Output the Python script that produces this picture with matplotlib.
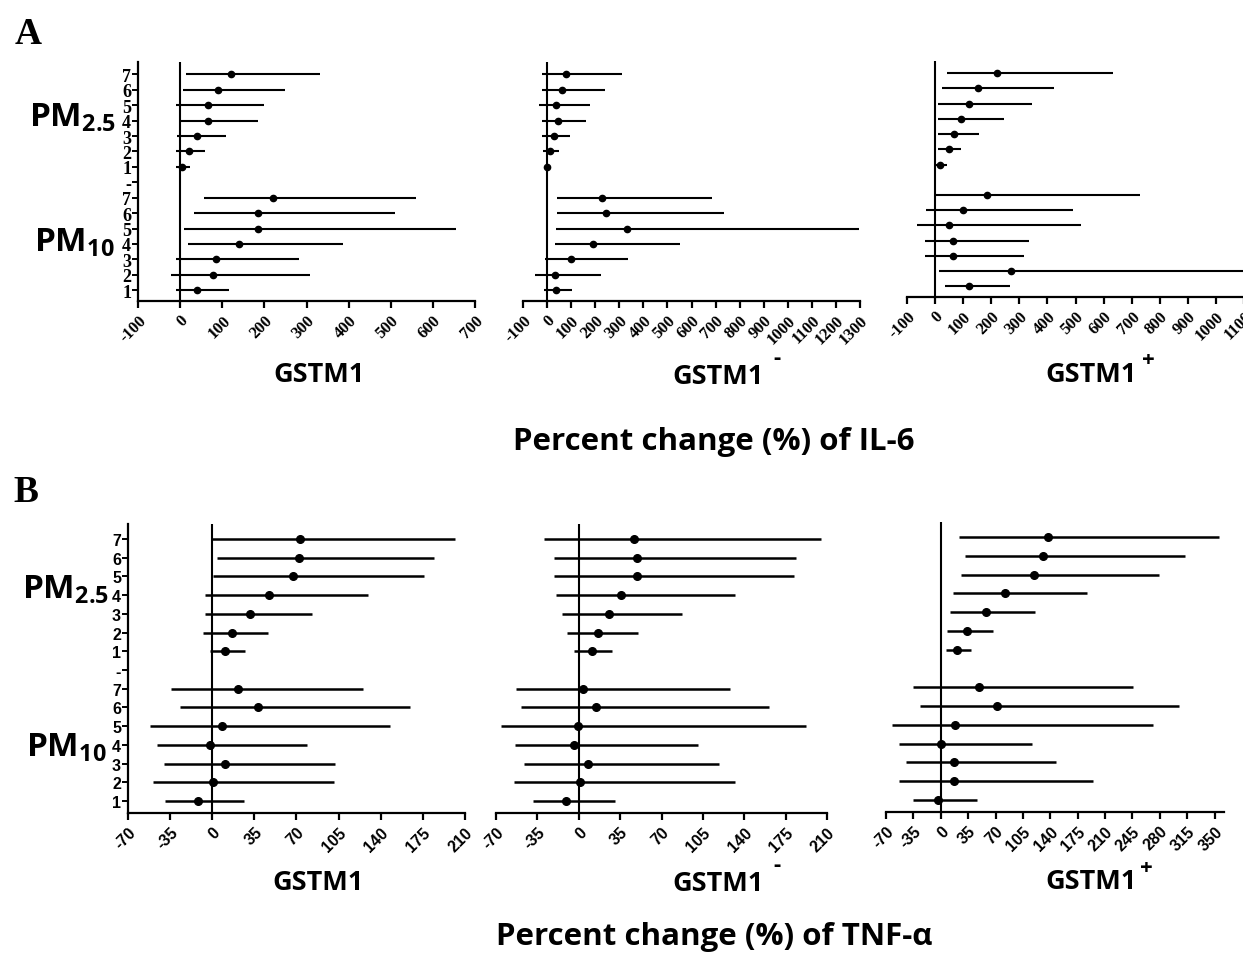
import matplotlib
matplotlib.use("Agg")
import matplotlib.pyplot as plt

W, H = 1243, 954

# row labels, top to bottom: PM2.5 lags 7..1, spacer, PM10 lags 7..1
row_labels = ["7", "6", "5", "4", "3", "2", "1", "-", "7", "6", "5", "4", "3", "2", "1"]

# IL-6, GSTM1 (all) -- lag 1..7
il6_all_pm25_est = [5, 20, 39, 67, 65, 90, 120]
il6_all_pm25_lo = [-10, -9, -7, 2, -10, 6, 13]
il6_all_pm25_hi = [23, 58, 108, 184, 199, 249, 332]
il6_all_pm10_est = [40, 79, 86, 139, 184, 186, 220]
il6_all_pm10_lo = [-9, -21, -9, 19, 10, 33, 56]
il6_all_pm10_hi = [115, 308, 282, 387, 656, 510, 559]

# IL-6, GSTM1-
il6_neg_pm25_est = [1, 12, 29, 44, 39, 64, 79]
il6_neg_pm25_lo = [-7, -17, -19, -22, -32, -19, -22]
il6_neg_pm25_hi = [15, 50, 94, 162, 180, 241, 311]
il6_neg_pm10_est = [36, 31, 101, 190, 330, 243, 230]
il6_neg_pm10_lo = [-11, -49, -7, 33, 36, 43, 40]
il6_neg_pm10_hi = [105, 226, 337, 551, 1294, 735, 687]

# IL-6, GSTM1+
il6_pos_pm25_est = [19, 48, 69, 93, 122, 152, 220]
il6_pos_pm25_lo = [5, 11, 11, 11, 11, 24, 42]
il6_pos_pm25_hi = [42, 93, 158, 246, 344, 424, 632]
il6_pos_pm10_est = [121, 272, 63, 65, 48, 101, 186]
il6_pos_pm10_lo = [36, 15, -36, -36, -65, -31, 1]
il6_pos_pm10_hi = [268, 1100, 317, 336, 519, 490, 730]

# TNF-a, GSTM1 (all)
tnf_all_pm25_est = [11, 16, 31, 47, 67, 72, 73]
tnf_all_pm25_lo = [-2, -8, -6, -6, 1, 4, -1]
tnf_all_pm25_hi = [27, 46, 83, 129, 176, 184, 202]
tnf_all_pm10_est = [-12, 1, 11, -2, 8, 38, 21]
tnf_all_pm10_lo = [-39, -49, -40, -46, -52, -27, -34]
tnf_all_pm10_hi = [26, 101, 102, 79, 148, 164, 125]

# TNF-a, GSTM1-
tnf_neg_pm25_est = [11, 16, 26, 36, 49, 49, 47]
tnf_neg_pm25_lo = [-4, -10, -14, -19, -21, -21, -29]
tnf_neg_pm25_hi = [28, 50, 87, 132, 182, 184, 205]
tnf_neg_pm10_est = [-11, 1, 8, -4, -1, 15, 4]
tnf_neg_pm10_lo = [-39, -55, -46, -54, -66, -49, -53]
tnf_neg_pm10_hi = [31, 132, 119, 101, 192, 161, 128]

# TNF-a, GSTM1+
tnf_pos_pm25_est = [21, 33, 58, 82, 119, 131, 137]
tnf_pos_pm25_lo = [7, 8, 12, 16, 26, 31, 23]
tnf_pos_pm25_hi = [38, 67, 121, 187, 279, 312, 355]
tnf_pos_pm10_est = [-3, 17, 17, 0, 18, 72, 49]
tnf_pos_pm10_lo = [-36, -53, -44, -53, -62, -27, -36]
tnf_pos_pm10_hi = [46, 195, 147, 117, 271, 305, 246]

il6_ticks_all = list(range(-100, 701, 100))
il6_ticks_neg = list(range(-100, 1301, 100))
il6_ticks_pos = list(range(-100, 1101, 100))
tnf_ticks_small = list(range(-70, 211, 35))
tnf_ticks_pos = list(range(-70, 351, 35))

SERIF = "Liberation Serif"
SANS = "Liberation Sans"
LABEL = "Open Sans"

plt.rcParams["mathtext.fontset"] = "custom"
plt.rcParams["mathtext.rm"] = "Open Sans:bold"
plt.rcParams["mathtext.bf"] = "Open Sans:bold"
plt.rcParams["mathtext.it"] = "Open Sans:bold"


def px_axes(left, right, top, bottom):
    return [left / W, 1 - bottom / H, (right - left) / W, (bottom - top) / H]


def fig_xy(x, y):
    return x / W, 1 - y / H


def draw_panel(fig, rect, est25, lo25, hi25, est10, lo10, hi10, xticks, xlim,
               ylim, first, style):
    ax = fig.add_axes(rect)
    pm10_y = list(range(1, 8))
    pm25_y = list(range(9, 16))
    lw = 1.5 if style == "A" else 1.8
    ms = 4.5 if style == "A" else 5.5
    for ys, est, lo, hi in [(pm25_y, est25, lo25, hi25), (pm10_y, est10, lo10, hi10)]:
        xerr = [[e - l for e, l in zip(est, lo)], [h - e for e, h in zip(est, hi)]]
        ax.errorbar(est, ys, xerr=xerr, fmt="o", color="black", ms=ms,
                    elinewidth=lw, capsize=0, zorder=3)
    ax.axvline(0, color="black", lw=1.5, zorder=2)
    ax.set_xlim(*xlim)
    ax.set_ylim(*ylim)
    ax.set_xticks(xticks)
    for s in ["top", "right"]:
        ax.spines[s].set_visible(False)
    ax.spines["bottom"].set_linewidth(1.6)
    ax.spines["left"].set_linewidth(1.6)
    if style == "A":
        tick_font = dict(family=SERIF, weight="bold", size=12)
    else:
        tick_font = dict(family=SANS, weight="bold", size=11.5)
    ax.set_xticklabels([str(t) for t in xticks], rotation=45, ha="right",
                       rotation_mode="anchor", **tick_font)
    ax.tick_params(axis="x", length=5, width=1.6, pad=3)
    if first:
        ax.set_yticks(list(range(1, 16)))
        yfont = ({"family": SERIF, "weight": "bold", "size": 13} if style == "A"
                 else {"family": SANS, "weight": "bold", "size": 11.5})
        ax.set_yticklabels(row_labels[::-1], **yfont)
        ax.tick_params(axis="y", length=4, width=1.4, pad=1)
    else:
        ax.spines["left"].set_visible(False)
        ax.set_yticks([])
    return ax


fig = plt.figure(figsize=(W / 100, H / 100), dpi=100)

ylim_a = (0.3, 15.8)
ylim_b = (0.36, 15.8)

draw_panel(fig, px_axes(138, 475, 63, 302), il6_all_pm25_est, il6_all_pm25_lo, il6_all_pm25_hi,
           il6_all_pm10_est, il6_all_pm10_lo, il6_all_pm10_hi, il6_ticks_all, (-100, 700),
           ylim_a, True, "A")
draw_panel(fig, px_axes(523, 860, 63, 302), il6_neg_pm25_est, il6_neg_pm25_lo, il6_neg_pm25_hi,
           il6_neg_pm10_est, il6_neg_pm10_lo, il6_neg_pm10_hi, il6_ticks_neg, (-100, 1300),
           ylim_a, False, "A")
draw_panel(fig, px_axes(907, 1244, 62, 298), il6_pos_pm25_est, il6_pos_pm25_lo, il6_pos_pm25_hi,
           il6_pos_pm10_est, il6_pos_pm10_lo, il6_pos_pm10_hi, il6_ticks_pos, (-100, 1100),
           ylim_a, False, "A")

draw_panel(fig, px_axes(128, 465, 525, 814), tnf_all_pm25_est, tnf_all_pm25_lo, tnf_all_pm25_hi,
           tnf_all_pm10_est, tnf_all_pm10_lo, tnf_all_pm10_hi, tnf_ticks_small, (-70, 210),
           ylim_b, True, "B")
draw_panel(fig, px_axes(496, 827, 525, 814), tnf_neg_pm25_est, tnf_neg_pm25_lo, tnf_neg_pm25_hi,
           tnf_neg_pm10_est, tnf_neg_pm10_lo, tnf_neg_pm10_hi, tnf_ticks_small, (-70, 210),
           ylim_b, False, "B")
draw_panel(fig, px_axes(886, 1224, 523, 813), tnf_pos_pm25_est, tnf_pos_pm25_lo, tnf_pos_pm25_hi,
           tnf_pos_pm10_est, tnf_pos_pm10_lo, tnf_pos_pm10_hi, tnf_ticks_pos, (-70, 362),
           ylim_b, False, "B")

# panel letters
fig.text(*fig_xy(28, 35), "A", family=SERIF, weight="bold", size=27, ha="center", va="center")
fig.text(*fig_xy(26, 493), "B", family=SERIF, weight="bold", size=27, ha="center", va="center")

for (x, y), lab in [((73, 118), r"PM$_{\mathrm{2.5}}$"), ((74, 243), r"PM$_{\mathrm{10}}$"),
                    ((66, 590), r"PM$_{\mathrm{2.5}}$"), ((66, 748), r"PM$_{\mathrm{10}}$")]:
    fig.text(*fig_xy(x, y), lab, family=LABEL, weight="bold", size=24, ha="center", va="center")

# group labels under each panel
group_font = dict(family=LABEL, weight="bold", size=19.5, ha="center", va="center")
sup_font = dict(family=LABEL, weight="bold", size=16, ha="center", va="center")
fig.text(*fig_xy(319, 375), "GSTM1", **group_font)
fig.text(*fig_xy(718, 377), "GSTM1", **group_font)
fig.text(*fig_xy(777, 358), "-", **sup_font)
fig.text(*fig_xy(1091, 375), "GSTM1", **group_font)
fig.text(*fig_xy(1148, 361), "+", **sup_font)

fig.text(*fig_xy(318, 883), "GSTM1", **group_font)
fig.text(*fig_xy(718, 884), "GSTM1", **group_font)
fig.text(*fig_xy(777, 866), "-", **sup_font)
fig.text(*fig_xy(1091, 882), "GSTM1", **group_font)
fig.text(*fig_xy(1146, 869), "+", **sup_font)

title_font = dict(family=LABEL, weight="bold", size=22.5, ha="center", va="center")
fig.text(*fig_xy(714, 442), "Percent change (%) of IL-6", **title_font)
fig.text(*fig_xy(714, 937), "Percent change (%) of TNF-α", **title_font)

fig.savefig("out.png", dpi=100)
